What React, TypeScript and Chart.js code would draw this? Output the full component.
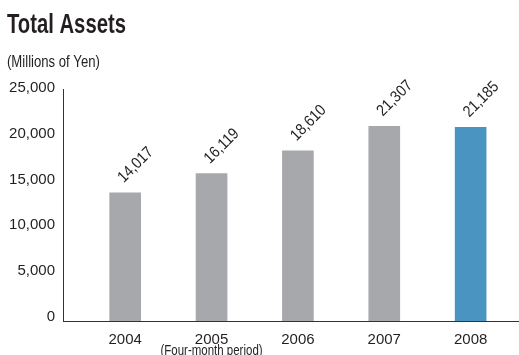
import React, { useEffect, useRef } from "react";
import { Chart, registerables } from "chart.js";

Chart.register(...registerables);

const years = ["2004", "2005", "2006", "2007", "2008"];
const totalAssets = [14017, 16119, 18610, 21307, 21185];
const barColors = ["#a7a8ac", "#a7a8ac", "#a7a8ac", "#a7a8ac", "#4a94c2"];
const yTicks = [0, 5000, 10000, 15000, 20000, 25000];
const titleText = "Total Assets";
const unitText = "(Millions of Yen)";
const periodNote = "(Four-month period)";
const periodNoteIndex = 1;

const FONT = "'Liberation Sans', Arial, sans-serif";
const TEXT = "#231f20";

function narrowText(ctx: any, text: string, x: number, y: number, sx: number, rot = 0) {
  ctx.save();
  ctx.translate(x, y);
  if (rot) ctx.rotate(rot);
  ctx.scale(sx, 1);
  ctx.fillText(text, 0, 0);
  ctx.restore();
}

const annotations = {
  id: "annotations",
  afterDatasetsDraw(chart: any) {
    const ctx = chart.ctx;
    const meta = chart.getDatasetMeta(0);
    ctx.save();
    ctx.fillStyle = TEXT;
    ctx.font = `16px ${FONT}`;
    ctx.textAlign = "left";
    ctx.textBaseline = "alphabetic";
    meta.data.forEach((bar: any, i: number) => {
      narrowText(ctx, totalAssets[i].toLocaleString("en-US"), bar.x - 1.5, bar.y - 9.5, 0.88, -Math.PI / 4);
    });
    const xs = chart.scales.x;
    ctx.font = `14px ${FONT}`;
    ctx.textAlign = "center";
    ctx.textBaseline = "top";
    narrowText(ctx, periodNote, xs.getPixelForValue(periodNoteIndex), 344, 0.82);
    ctx.textAlign = "left";
    ctx.textBaseline = "alphabetic";
    ctx.font = `bold 27px ${FONT}`;
    narrowText(ctx, titleText, 7, 33.3, 0.75);
    ctx.font = `16px ${FONT}`;
    narrowText(ctx, unitText, 7, 66.5, 0.82);
    ctx.restore();
  },
};

export default function App() {
  const ref = useRef<HTMLCanvasElement>(null);
  useEffect(() => {
    document.body.style.margin = "0";
    const chart = new Chart(ref.current!, {
      type: "bar",
      data: {
        datasets: [
          {
            data: totalAssets.map((v, i) => ({ x: i, y: v })),
            backgroundColor: barColors,
            borderWidth: 0,
            barThickness: 31,
          },
        ],
      },
      options: {
        animation: false,
        responsive: false,
        devicePixelRatio: 1,
        layout: { padding: { top: 89, left: 0, right: 0, bottom: 0 } },
        plugins: { legend: { display: false }, tooltip: { enabled: false } },
        scales: {
          x: {
            type: "linear",
            offset: false,
            min: -0.72,
            max: 4.56,
            afterBuildTicks: (s: any) => {
              s.ticks = years.map((_, i) => ({ value: i }));
            },
            afterFit: (s: any) => {
              s.height = 34;
            },
            ticks: {
              callback: (_v: any, i: number) => years[i],
              font: { family: FONT, size: 15 },
              color: TEXT,
              padding: 10,
              autoSkip: false,
              maxRotation: 0,
            },
            grid: { display: false, drawTicks: false, offset: false },
            border: { display: true, color: "#333", width: 1 },
          },
          y: {
            min: 0,
            max: 25380,
            afterBuildTicks: (s: any) => {
              s.ticks = yTicks.map((v) => ({ value: v }));
            },
            afterFit: (s: any) => {
              s.width = 63;
            },
            ticks: {
              callback: (v: any) => Number(v).toLocaleString("en-US"),
              font: { family: FONT, size: 15 },
              color: TEXT,
              padding: 8,
              labelOffset: -4.5,
            },
            grid: { display: false, drawTicks: false },
            border: { display: true, color: "#333", width: 1 },
          },
        },
      },
      plugins: [annotations],
    } as any);
    return () => chart.destroy();
  }, []);
  return (
    <div style={{ width: 519, height: 355, position: "relative" }}>
      <canvas ref={ref} width={519} height={355} />
    </div>
  );
}
